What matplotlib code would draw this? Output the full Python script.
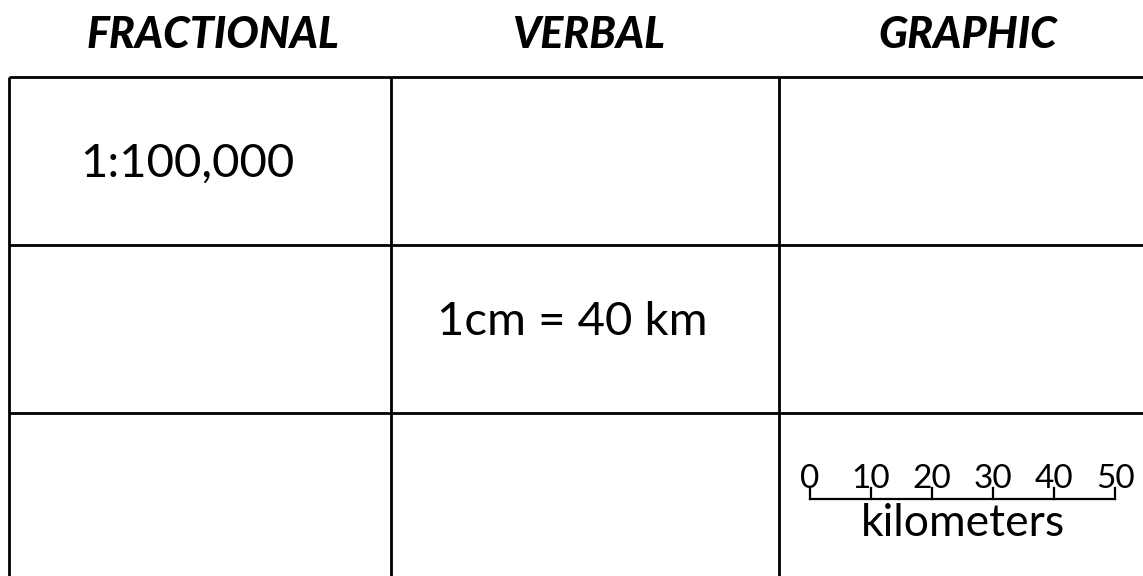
import matplotlib
matplotlib.use("Agg")
import matplotlib.pyplot as plt

# ---- data ----
headers = ["FRACTIONAL", "VERBAL", "GRAPHIC"]
cells = [
    ["1:100,000", "", ""],
    ["", "1cm = 40 km", ""],
    ["", "", ""],
]
scale_values = [0, 10, 20, 30, 40, 50]
scale_unit = "kilometers"

# ---- layout (pixel units) ----
W, H = 1143, 576
col_edges = [9, 391, 779, 1167]
row_edges = [77, 245, 413, 581]
header_x = [213, 589, 968]
header_y = 35

plt.rcParams["font.family"] = ["Lato", "DejaVu Sans"]

fig = plt.figure(figsize=(W / 100, H / 100), dpi=100)
ax = fig.add_axes([0, 0, 1, 1])
ax.set_xlim(0, W)
ax.set_ylim(H, 0)
ax.axis("off")

lw = 2.0
for y in row_edges:
    ax.plot([col_edges[0], col_edges[-1]], [y, y], color="black", lw=lw,
            solid_capstyle="butt")
for x in col_edges:
    ax.plot([x, x], [row_edges[0], row_edges[-1]], color="black", lw=lw,
            solid_capstyle="butt")

for hx, h in zip(header_x, headers):
    ax.text(hx, header_y, h, ha="center", va="center", fontsize=31,
            fontweight="black", fontstyle="italic", color="black")

cell_pos = [
    [(187, 164), None, None],
    [None, (572, 322), None],
    [None, None, None],
]
for r, row in enumerate(cells):
    for c, txt in enumerate(row):
        if txt:
            px, py = cell_pos[r][c]
            ax.text(px, py, txt, ha="center", va="center", fontsize=34,
                    color="black")

# ---- graphic scale bar ----
bx0, bx1 = 810, 1115
by0, by1 = 455, 548
sax = fig.add_axes([bx0 / W, 1 - by1 / H, (bx1 - bx0) / W, (by1 - by0) / H])
sax.set_xlim(scale_values[0], scale_values[-1])
sax.set_ylim(by1, by0)
sax.axis("off")
bar_y = 499
tick_top = 488
sax.plot([scale_values[0], scale_values[-1]], [bar_y, bar_y], color="black",
         lw=1.6, solid_capstyle="projecting", clip_on=False)
for v in scale_values:
    sax.plot([v, v], [bar_y, tick_top], color="black", lw=1.6, clip_on=False)
    sax.text(v, 479, str(v), ha="center", va="center", fontsize=24,
             color="black", clip_on=False)
sax.text((scale_values[0] + scale_values[-1]) / 2, 523, scale_unit,
         ha="center", va="center", fontsize=32, color="black", clip_on=False)

fig.savefig("out.png", dpi=100, facecolor="white")
